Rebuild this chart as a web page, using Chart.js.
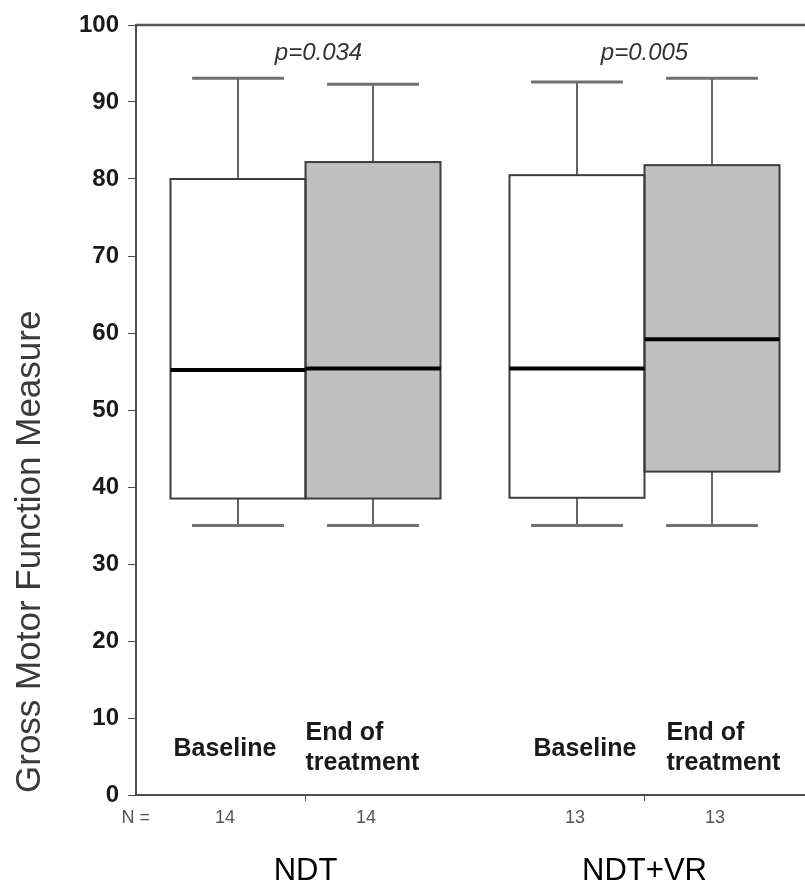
<!DOCTYPE html>
<html>
<head>
<meta charset="utf-8">
<script src="https://cdn.jsdelivr.net/npm/chart.js@4/dist/chart.umd.min.js"></script>
<style>
html,body{margin:0;padding:0;overflow:hidden;background:#fff;width:805px;height:886px}
#wrap{width:814px;height:886px}
canvas{display:block}
</style>
</head>
<body>
<div id="wrap"><canvas id="c" width="814" height="886"></canvas></div>
<script>
// ---- data ----
const groups = ['NDT', 'NDT+VR'];
const phases = ['Baseline', 'End of treatment'];

const baselineMin    = [35, 35];
const baselineQ1     = [38.5, 38.6];
const baselineMedian = [55.2, 55.4];
const baselineQ3     = [80.0, 80.5];
const baselineMax    = [93.1, 92.6];
const baselineN      = [14, 13];

const endMin    = [35, 35];
const endQ1     = [38.5, 42.0];
const endMedian = [55.4, 59.2];
const endQ3     = [82.2, 81.8];
const endMax    = [92.3, 93.1];
const endN      = [14, 13];

const pValues = ['p=0.034', 'p=0.005'];
const yTickValues = [0, 10, 20, 30, 40, 50, 60, 70, 80, 90, 100];
const yTitle = 'Gross Motor Function Measure';

// ---- chart ----
const series = [
  { min: baselineMin, q1: baselineQ1, med: baselineMedian, q3: baselineQ3, max: baselineMax, n: baselineN },
  { min: endMin, q1: endQ1, med: endMedian, q3: endQ3, max: endMax, n: endN }
];

const FONT = '"Liberation Sans", Arial, sans-serif';

const boxPlugin = {
  id: 'boxPlugin',
  afterDatasetsDraw(chart) {
    const ctx = chart.ctx;
    const ys = chart.scales.y;
    ctx.save();
    const ca = chart.chartArea;
    ctx.strokeStyle = '#555';
    ctx.lineWidth = 2.5;
    ctx.beginPath();
    ctx.moveTo(ca.left, ca.top);
    ctx.lineTo(ca.right, ca.top);
    ctx.stroke();

    series.forEach((s, d) => {
      const meta = chart.getDatasetMeta(d);
      meta.data.forEach((el, i) => {
        const x = el.x, w = el.width;
        const l = x - w / 2;
        const yMin = ys.getPixelForValue(s.min[i]);
        const yQ1 = ys.getPixelForValue(s.q1[i]);
        const yQ3 = ys.getPixelForValue(s.q3[i]);
        const yMax = ys.getPixelForValue(s.max[i]);
        ctx.strokeStyle = '#333';
        ctx.lineWidth = 1.5;
        ctx.beginPath();
        ctx.moveTo(x, yQ3); ctx.lineTo(x, yMax);
        ctx.moveTo(x, yQ1); ctx.lineTo(x, yMin);
        ctx.stroke();
        const cw = w * 0.34;
        ctx.strokeStyle = '#707070';
        ctx.lineWidth = 3;
        ctx.beginPath();
        ctx.moveTo(x - cw, yMax); ctx.lineTo(x + cw, yMax);
        ctx.moveTo(x - cw, yMin); ctx.lineTo(x + cw, yMin);
        ctx.stroke();
        ctx.strokeStyle = '#3d3d3d';
        ctx.lineWidth = 2;
        ctx.strokeRect(l, yQ3, w, yQ1 - yQ3);
      });
    });
    series.forEach((s, d) => {
      const meta = chart.getDatasetMeta(d);
      meta.data.forEach((el, i) => {
        const x = el.x, w = el.width;
        const yMed = ys.getPixelForValue(s.med[i]);
        ctx.strokeStyle = '#000';
        ctx.lineWidth = 4;
        ctx.beginPath();
        ctx.moveTo(x - w / 2, yMed); ctx.lineTo(x + w / 2, yMed);
        ctx.stroke();
      });
    });
    ctx.restore();
  },
  afterDraw(chart) {
    const ctx = chart.ctx;
    const ys = chart.scales.y;
    const xs = chart.scales.x;
    ctx.save();
    ctx.textBaseline = 'middle';
    const nameDx = [[3, 0], [24, 22]];
    const nDx = [[-13, -7], [-2, 3]];
    series.forEach((s, d) => {
      const meta = chart.getDatasetMeta(d);
      meta.data.forEach((el, i) => {
        const l = el.x - el.width / 2;
        ctx.font = 'bold 25px ' + FONT;
        ctx.textAlign = 'left';
        ctx.fillStyle = '#1a1a1a';
        if (d === 0) {
          ctx.fillText(phases[0], l + nameDx[i][0], ys.getPixelForValue(6));
        } else {
          const parts = phases[1].split(' ');
          ctx.fillText(parts[0] + ' ' + parts[1], l + nameDx[i][1], ys.getPixelForValue(8.1));
          ctx.fillText(parts[2], l + nameDx[i][1], ys.getPixelForValue(4.2));
        }
        ctx.font = '18px ' + FONT;
        ctx.textAlign = 'center';
        ctx.fillStyle = '#555';
        ctx.fillText(String(s.n[i]), el.x + nDx[i][d], xs.top + 23);
      });
    });
    ctx.font = '18px ' + FONT;
    ctx.textAlign = 'right';
    ctx.fillStyle = '#555';
    ctx.fillText('N =', 150, xs.top + 23);

    ctx.font = 'italic 24px ' + FONT;
    ctx.textAlign = 'center';
    ctx.fillStyle = '#333';
    const pDx = [13, 0];
    pValues.forEach((p, i) => {
      ctx.fillText(p, xs.getPixelForValue(i) + pDx[i], ys.getPixelForValue(96.3));
    });

    ctx.save();
    ctx.translate(40, ys.bottom - 2);
    ctx.rotate(-Math.PI / 2);
    ctx.font = '35px ' + FONT;
    ctx.fillStyle = '#3a3a3a';
    ctx.textAlign = 'left';
    ctx.textBaseline = 'alphabetic';
    ctx.fillText(yTitle, 0, 0);
    ctx.restore();
    ctx.restore();
  }
};

new Chart(document.getElementById('c'), {
  type: 'bar',
  data: {
    labels: groups,
    datasets: [
      {
        label: phases[0],
        data: groups.map((g, i) => [baselineQ1[i], baselineQ3[i]]),
        backgroundColor: '#ffffff',
        borderWidth: 0,
        barPercentage: 1.0,
        categoryPercentage: 0.7965
      },
      {
        label: phases[1],
        data: groups.map((g, i) => [endQ1[i], endQ3[i]]),
        backgroundColor: '#c0c0c0',
        borderWidth: 0,
        barPercentage: 1.0,
        categoryPercentage: 0.7965
      }
    ]
  },
  options: {
    responsive: false,
    animation: false,
    layout: { padding: { top: 25, left: 0, right: 0, bottom: 0 } },
    plugins: { legend: { display: false }, tooltip: { enabled: false } },
    scales: {
      x: {
        type: 'category',
        offset: true,
        grid: { offset: false, drawOnChartArea: false, drawTicks: true, tickLength: 6, color: '#4d4d4d' },
        border: { display: true, color: '#4d4d4d', width: 2 },
        ticks: { color: '#000', font: { family: FONT, size: 31 }, padding: 52, maxRotation: 0 },
        afterFit(scale) { scale.height = 91; }
      },
      y: {
        min: 0,
        max: 100,
        afterBuildTicks(scale) { scale.ticks = yTickValues.map(v => ({ value: v })); },
        grid: { drawOnChartArea: false, drawTicks: true, tickLength: 8, color: '#4d4d4d' },
        border: { display: true, color: '#4d4d4d', width: 2 },
        ticks: { color: '#1a1a1a', font: { family: FONT, size: 24, weight: 'bold' }, padding: 9 },
        afterFit(scale) { scale.width = 136; }
      }
    }
  },
  plugins: [boxPlugin]
});
</script>
</body>
</html>
